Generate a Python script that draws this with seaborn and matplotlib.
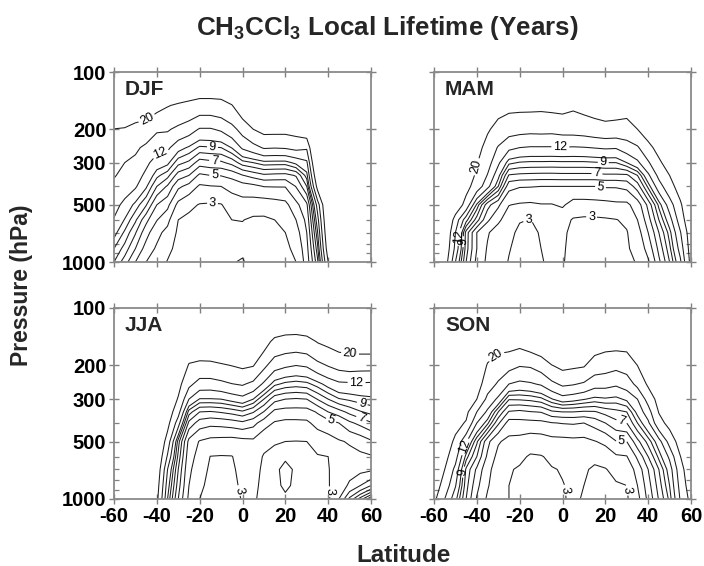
import numpy as np
import matplotlib
matplotlib.use("Agg")
import matplotlib.pyplot as plt
import seaborn as sns
from matplotlib.ticker import FixedLocator, NullFormatter

# ---------------- data ----------------
latitudes = list(range(-60, 61, 5))
pressure_levels = [1000, 850, 700, 600, 500, 400, 350, 300, 250, 200, 150, 100]
contour_levels = [3, 4, 5, 6, 7, 8, 9, 10, 12, 15, 20]
labelled_levels = [3, 5, 7, 9, 12, 20]
seasons = ["DJF", "MAM", "JJA", "SON"]
x_ticks = [-60, -40, -20, 0, 20, 40, 60]
y_ticks = [100, 200, 300, 500, 1000]
y_minor_ticks = [400, 600, 700, 800, 900]

# lifetime (years); one list per latitude, values from 1000 hPa up to 100 hPa
djf_lifetime = [
    [8, 9, 10.5, 11.8, 13, 14.4, 15.2, 16.5, 18, 19.9, 27, 40],
    [6.5, 7.6, 8.8, 9.9, 11.3, 13.4, 14.3, 15, 16.8, 19.6, 26, 38],
    [5, 6, 7.1, 8.2, 9.6, 12.3, 13.3, 14.3, 15.6, 18.2, 25, 37],
    [4, 4.6, 5.4, 6.3, 8.1, 10.2, 11.4, 12.6, 14.3, 17.5, 24, 36],
    [3.5, 3.85, 4.3, 5.05, 6.0, 8.0, 9.3, 10.9, 12.9, 15.5, 22, 35],
    [2.95, 3.23, 3.69, 4.3, 5.3, 6.86, 8.37, 10.36, 12.5, 15.4, 20.3, 32],
    [2.7, 2.75, 2.85, 3.0, 3.72, 5.22, 6.53, 8.35, 10.6, 14.2, 19.3, 31],
    [2.6, 2.6, 2.65, 2.8, 3.21, 4.68, 6.0, 7.77, 9.8, 13.2, 18.4, 31],
    [2.55, 2.55, 2.6, 2.75, 2.95, 3.85, 4.8, 6.5, 8.8, 11.8, 17.4, 31],
    [2.5, 2.5, 2.6, 2.7, 2.9, 3.95, 5.0, 6.7, 8.9, 11.8, 17.4, 31],
    [2.5, 2.5, 2.55, 2.7, 2.95, 4.0, 5.05, 6.8, 9.0, 12.4, 17.9, 30],
    [2.9, 2.6, 2.7, 3.0, 3.47, 4.3, 5.34, 7.35, 10.07, 13.8, 19.7, 35],
    [3.15, 2.7, 2.8, 3.03, 3.58, 4.58, 5.95, 8.57, 12.4, 16.5, 24.9, 45],
    [2.5, 2.55, 2.65, 2.85, 3.5, 4.73, 6.4, 9.0, 13.7, 20, 30, 50],
    [2.5, 2.55, 2.65, 2.85, 3.46, 5.03, 6.8, 9.55, 15.4, 22, 34, 55],
    [2.5, 2.6, 2.75, 3.0, 3.58, 5.05, 6.7, 9.5, 15.2, 22, 34, 55],
    [2.6, 2.8, 3.0, 3.32, 3.73, 5.05, 6.66, 9.47, 15.4, 21.9, 34.7, 55],
    [3.0, 3.25, 3.6, 4.0, 4.73, 6.05, 7.1, 10.4, 16.1, 22.7, 35, 55],
    [4.5, 4.7, 5.0, 5.3, 5.8, 8, 9.5, 11.5, 15.5, 25, 35, 45],
    [7.7, 8.6, 9.8, 11, 13, 22, 27, 33, 38, 44, 50, 56],
    [20, 24, 27, 29, 31, 35, 38, 42, 46, 50, 55, 60],
    [32, 36, 40, 44, 48, 52, 55, 58, 61, 64, 67, 70],
    [40, 44, 48, 52, 55, 58, 61, 64, 67, 70, 72, 75],
    [45, 49, 53, 57, 60, 63, 66, 69, 72, 75, 77, 80],
    [50, 54, 58, 62, 65, 68, 71, 74, 77, 80, 82, 85],
]

mam_lifetime = [
    [38, 40, 42, 44, 46, 48, 50, 52, 54, 56, 58, 60],
    [24, 26, 28, 31, 35, 40, 42, 44, 46, 48, 52, 56],
    [12, 14, 15, 17.5, 25, 28, 30, 32, 35, 38, 42, 48],
    [7, 7.5, 7.6, 10.5, 17.9, 22, 24, 26, 28.5, 31, 36, 42],
    [4.7, 5, 5, 7.5, 9.7, 17.5, 19, 20.3, 22.5, 25.5, 29, 36],
    [3.8, 3.9, 4.1, 5.2, 6.4, 12.8, 14.8, 16.6, 17.8, 20.8, 25, 32],
    [3.4, 3.5, 3.55, 4.2, 5.2, 9, 10.5, 12.5, 14.7, 18, 22.5, 31],
    [2.95, 3.05, 3.2, 3.5, 4.03, 5.34, 6.9, 9.3, 12.6, 16.7, 21.6, 31],
    [2.7, 2.75, 2.85, 3.05, 3.9, 5.07, 6.75, 8.9, 12, 16.3, 21.5, 31],
    [2.6, 2.65, 2.75, 2.98, 3.85, 5.05, 6.7, 8.8, 11.8, 16.1, 21.5, 32],
    [2.95, 3.0, 3.1, 3.3, 3.95, 5.0, 6.66, 8.8, 11.8, 16.2, 21.3, 32],
    [3.15, 3.15, 3.2, 3.3, 3.95, 5.0, 6.66, 8.77, 11.8, 16.1, 21.7, 33],
    [3.1, 3.15, 3.2, 3.35, 4.15, 5.0, 6.7, 8.8, 11.9, 16.5, 22, 31],
    [2.6, 2.65, 2.75, 2.92, 3.6, 5.0, 6.7, 8.8, 11.8, 16.6, 21, 31],
    [2.5, 2.55, 2.65, 2.85, 3.6, 5.0, 6.7, 8.8, 11.9, 16.9, 22, 32],
    [2.5, 2.55, 2.65, 2.85, 3.65, 5.0, 6.7, 8.9, 12.1, 17.5, 23, 34],
    [2.55, 2.6, 2.7, 2.9, 3.7, 5.1, 6.8, 9.0, 12.3, 18, 24, 36],
    [2.7, 2.75, 2.85, 2.97, 3.8, 5.1, 6.8, 9.0, 12.2, 17.8, 23.5, 36],
    [2.85, 2.9, 2.95, 3.15, 3.79, 5.3, 6.8, 10, 13.4, 17.5, 23, 34],
    [3.05, 3.3, 3.6, 4.0, 4.5, 6.5, 8.0, 11.5, 14.5, 20, 26, 36],
    [3.85, 4.4, 5, 5.6, 6.3, 9.3, 11.5, 14.5, 18.5, 23, 28, 38],
    [5.75, 6.3, 7, 8, 9.3, 13.5, 16, 19, 22, 26, 30, 40],
    [8, 8.7, 9.5, 11, 13.3, 17.8, 20, 23, 26, 29, 33, 42],
    [11.5, 13, 14.7, 17, 19, 23, 25, 27, 30, 33, 36, 44],
    [22, 23, 24, 26, 28, 30, 32, 34, 36, 38, 40, 46],
]

jja_lifetime = [
    [40, 42, 44, 46, 48, 50, 52, 54, 56, 58, 60, 62],
    [36, 38, 40, 42, 44, 46, 48, 50, 52, 54, 56, 58],
    [32, 34, 36, 38, 40, 42, 44, 46, 48, 50, 52, 54],
    [26, 28, 30, 32, 34, 36, 38, 40, 42, 44, 46, 50],
    [21.5, 23, 25, 27, 29, 31, 33, 35, 37, 39, 42, 46],
    [10, 10.8, 12, 14.5, 17.5, 22, 24, 26, 28, 30, 33, 38],
    [6, 6.5, 7, 7.7, 8.5, 13.2, 16.5, 19.5, 22, 25, 28, 34],
    [3.8, 4.0, 4.2, 4.4, 4.7, 6.7, 8.5, 12, 16, 19.6, 24, 32],
    [3.0, 3.2, 3.45, 3.66, 3.93, 5.54, 7.0, 9.9, 13.6, 18.4, 26.8, 40],
    [2.7, 2.75, 2.85, 2.98, 3.7, 5.3, 6.9, 9.9, 13.5, 18.7, 26, 40],
    [2.7, 2.75, 2.85, 2.95, 3.65, 5.37, 7.1, 10.0, 14.1, 19.3, 28, 40],
    [2.75, 2.8, 2.9, 2.97, 3.6, 5.53, 7.37, 10.6, 14.9, 20.1, 29, 40],
    [3.05, 3.15, 3.2, 3.35, 3.7, 5.77, 7.8, 11.2, 15.4, 21, 27, 38],
    [3.1, 3.15, 3.2, 3.3, 3.8, 5.35, 7.1, 10.0, 14.1, 20.3, 29, 40],
    [2.8, 2.85, 2.9, 2.95, 3.18, 4.5, 5.95, 8.0, 11.55, 15.9, 22.9, 38],
    [2.7, 2.8, 2.85, 2.9, 3.03, 3.9, 4.73, 6.37, 9.3, 13.1, 18.4, 33],
    [2.85, 3.15, 3.2, 2.9, 3.0, 3.75, 4.6, 6.0, 8.7, 12.4, 17.7, 30],
    [2.8, 2.85, 2.9, 2.95, 2.98, 3.75, 4.6, 5.9, 8.5, 12, 17.5, 30],
    [2.8, 2.85, 2.9, 2.95, 3.0, 3.8, 4.6, 6.0, 8.7, 12.3, 18, 31],
    [2.85, 2.9, 2.92, 2.95, 3.28, 4.39, 5.1, 7.05, 9.5, 13.9, 20.3, 32],
    [2.85, 2.95, 2.97, 3.0, 3.6, 4.6, 6.0, 8.0, 10.6, 15.2, 21.5, 34],
    [4.0, 3.4, 3.25, 3.35, 3.9, 5.0, 6.6, 8.9, 11.5, 16.3, 23, 35],
    [6.3, 4.2, 3.6, 3.7, 4.1, 5.8, 7.3, 9.2, 11.6, 16.8, 23.5, 35],
    [8.5, 5.0, 3.75, 3.8, 4.4, 6.3, 7.9, 9.5, 11.7, 16.5, 24, 36],
    [11, 6, 3.85, 3.9, 4.85, 6.9, 8.3, 9.7, 11.6, 16.5, 24, 36],
]

son_lifetime = [
    [21.5, 24, 27, 30, 34, 38, 40, 43, 46, 49, 52, 56],
    [15, 17.5, 20, 22, 24, 27, 29, 31, 34, 37, 41, 46],
    [10.5, 12.2, 14, 16.5, 18.8, 22, 24, 26, 28, 31, 35, 42],
    [7, 7.4, 7.8, 9.5, 12.3, 19.5, 21.5, 23.5, 26, 28.5, 32, 40],
    [4.9, 5.3, 5.8, 7.0, 8.2, 12, 15, 20, 23, 26, 30, 38],
    [3.85, 4.1, 4.3, 4.8, 5.3, 9.3, 11.5, 14, 17, 19.5, 24, 33],
    [3.3, 3.4, 3.5, 3.7, 4.1, 6.2, 8, 11.5, 14.5, 17.5, 22.5, 32],
    [3.0, 3.0, 3.08, 3.3, 3.74, 4.6, 5.9, 8.1, 12, 16.3, 22.8, 33],
    [2.75, 2.8, 2.9, 3.2, 3.66, 4.67, 5.75, 8.15, 11.4, 15.2, 22, 34],
    [2.7, 2.75, 2.8, 2.9, 3.46, 4.7, 5.95, 8.3, 11.7, 15.4, 23.9, 36],
    [2.7, 2.75, 2.85, 2.95, 3.51, 4.75, 6.05, 8.7, 12.3, 16.7, 26, 38],
    [2.85, 2.9, 2.95, 3.17, 3.68, 4.95, 6.8, 9.9, 14.1, 19.8, 29, 40],
    [2.95, 2.97, 3.05, 3.2, 3.7, 5.05, 7, 11, 15.7, 21.6, 29, 40],
    [3.1, 3.12, 3.15, 3.25, 3.75, 5.1, 7, 10.6, 15.3, 21, 29, 40],
    [2.95, 3.0, 3.1, 3.2, 3.72, 5.0, 6.85, 10.1, 14.5, 20.5, 28, 40],
    [2.7, 2.75, 2.88, 3.2, 3.95, 5.4, 6.9, 9.6, 13.0, 17.2, 24, 37],
    [2.7, 2.75, 2.95, 3.43, 4.23, 6.0, 7.37, 9.8, 12.9, 16.6, 22.6, 35],
    [2.8, 2.9, 3.28, 3.86, 4.95, 6.7, 7.7, 9.6, 12.4, 15.95, 22.6, 36],
    [2.9, 3.0, 3.37, 3.95, 5.0, 7.0, 8.0, 10.3, 13.3, 16.6, 22.6, 35],
    [3.7, 4.0, 4.4, 5.2, 6.7, 9, 10.5, 12, 16, 20, 26, 38],
    [5.3, 5.6, 6, 7, 8.4, 11.5, 13.5, 16.5, 21, 24, 29, 40],
    [7.1, 7.5, 8, 9.3, 11, 18, 20.3, 22.5, 25, 28, 32, 42],
    [9.3, 10, 10.8, 12.5, 16.5, 22, 24, 26, 28, 31, 35, 44],
    [15.3, 16.3, 17.5, 19.8, 23, 26, 28, 30, 32, 34, 37, 45],
    [22, 24, 26, 28, 30, 32, 34, 36, 38, 40, 42, 48],
]

season_data = {"DJF": djf_lifetime, "MAM": mam_lifetime,
               "JJA": jja_lifetime, "SON": son_lifetime}

# where the contour labels sit (latitude, hPa)
label_spots = {
    "DJF": [(-46, 168), (-38, 275), (-14, 247), (-13, 290), (-13, 350), (-14, 490)],
    "MAM": [(-40, 315), (-1, 248), (-48.6, 736), (-46.3, 781), (19, 303), (16, 356),
            (17.5, 427), (-16, 588), (13.6, 566)],
    "JJA": [(50.2, 169), (53.3, 238), (55.6, 328), (54.9, 394), (41.6, 378),
            (-0.4, 897), (42.4, 915)],
    "SON": [(-30, 183), (-45.5, 532), (-47, 720), (27.6, 394), (27.6, 491),
            (1.9, 897), (30.7, 897)],
}

# ---------------- figure ----------------
sns.set_theme(style="ticks")
plt.rcParams["font.family"] = ["Liberation Sans", "DejaVu Sans"]
plt.rcParams["mathtext.default"] = "regular"

fig = plt.figure(figsize=(7.04, 5.66), dpi=100)

axes_rects = {
    "DJF": [114 / 704, 1 - 262 / 566, 257 / 704, 190 / 566],
    "MAM": [434 / 704, 1 - 262 / 566, 257 / 704, 190 / 566],
    "JJA": [114 / 704, 1 - 499 / 566, 257 / 704, 191 / 566],
    "SON": [434 / 704, 1 - 499 / 566, 257 / 704, 191 / 566],
}

plain_levels = np.log([v for v in contour_levels if v not in labelled_levels])
label_levels = np.log(labelled_levels)
line_style = dict(colors="#1c1c1c", linewidths=0.75)

for season in seasons:
    ax = fig.add_axes(axes_rects[season])
    z = np.log(np.array(season_data[season], dtype=float).T)
    ax.contour(latitudes, pressure_levels, z, levels=plain_levels, **line_style)
    cs = ax.contour(latitudes, pressure_levels, z, levels=label_levels, **line_style)
    ax.set_yscale("log")
    ax.set_xlim(-60, 60)
    ax.set_ylim(1000, 100)
    ax.set_xticks(x_ticks)
    ax.set_yticks(y_ticks)
    ax.set_yticklabels([str(t) for t in y_ticks])
    ax.set_xticklabels([str(t) for t in x_ticks])
    ax.yaxis.set_minor_locator(FixedLocator(y_minor_ticks))
    ax.yaxis.set_minor_formatter(NullFormatter())
    ax.xaxis.set_minor_locator(FixedLocator([]))

    ax.tick_params(which="major", direction="inout", length=7, width=1.0,
                   color="#808080", top=True, right=True,
                   labelsize=14.5, labelcolor="black", pad=2)
    ax.tick_params(which="minor", direction="in", length=3.5, width=0.9,
                   color="#808080", left=True, right=True)
    for lab in ax.get_xticklabels() + ax.get_yticklabels():
        lab.set_fontweight("bold")
    if season in ("MAM", "SON"):
        ax.tick_params(labelleft=False)
    if season in ("DJF", "MAM"):
        ax.tick_params(labelbottom=False)
    for sp in ax.spines.values():
        sp.set_color("#8a8a8a")
        sp.set_linewidth(1.3)

    ax.clabel(cs, manual=label_spots[season],
              fmt=lambda v: f"{np.exp(v):.0f}", fontsize=9,
              inline=True, inline_spacing=2, colors="black")

    ax.text(0.043, 0.879, season, transform=ax.transAxes, fontsize=15,
            fontweight="bold", ha="left", va="baseline")

fig.text(387 / 704, 1 - 28 / 566, "CH$_3$CCl$_3$ Local Lifetime (Years)",
         ha="center", va="center", fontsize=18.7, fontweight="bold")
fig.text(22 / 704, 1 - 285 / 566, "Pressure (hPa)", rotation=90,
         ha="center", va="center", fontsize=16.5, fontweight="bold")
fig.text(404 / 704, 1 - 562 / 566, "Latitude", ha="center", va="baseline",
         fontsize=17.5, fontweight="bold")

fig.savefig("out.png", dpi=100)
